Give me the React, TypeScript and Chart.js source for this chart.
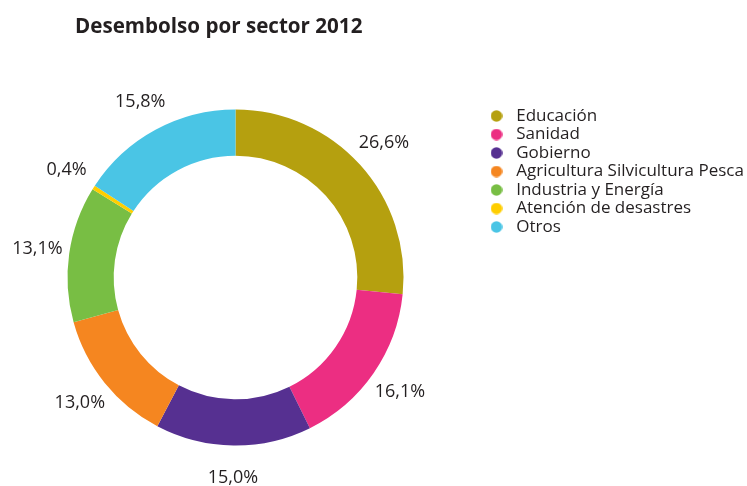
import React, { useEffect, useRef } from 'react';
import { Chart, registerables } from 'chart.js';

Chart.register(...registerables);

const TITLE = 'Desembolso por sector 2012';
const sectors = [
  'Educación',
  'Sanidad',
  'Gobierno',
  'Agricultura Silvicultura Pesca',
  'Industria y Energía',
  'Atención de desastres',
  'Otros',
];
const shares = [26.6, 16.1, 15.0, 13.0, 13.1, 0.4, 15.8];
const sectorColors = ['#B5A00F', '#EC2E82', '#563091', '#F58620', '#78BE44', '#FFCE00', '#4AC5E5'];

const W = 747;
const H = 486;
const OFF = 30; // canvas extends OFF px beyond the window on both sides
const FAMILY = '"Open Sans", "Noto Sans", sans-serif';
const TEXT = '#231F20';
const LEGEND_SIZE = 17;
const LABEL_SIZE = 18;
const TITLE_SIZE = 20.6;
const CENTER_X = 235.5;
const CENTER_Y = 277.5;
const OUTER_R = 168;
const LABEL_R = 200;
const LEG_PAD = 1.5;
const DOT_BOX = 22.4;
const LEG_LEFT = 483.8;
const LEG_TOP = 106;

function makeDot(color: string) {
  const c = document.createElement('canvas');
  c.width = 12;
  c.height = 12;
  const g = c.getContext('2d')!;
  g.fillStyle = color;
  g.beginPath();
  g.arc(6, 6, 5.8, 0, Math.PI * 2);
  g.fill();
  return c;
}

const titlePlugin = {
  id: 'fixedTitle',
  afterDraw(chart: any) {
    const ctx = chart.ctx;
    ctx.save();
    ctx.font = `bold ${TITLE_SIZE}px ${FAMILY}`;
    ctx.fillStyle = TEXT;
    ctx.textAlign = 'left';
    ctx.textBaseline = 'alphabetic';
    ctx.fillText(TITLE, 75 + OFF, 32.5);
    ctx.restore();
  },
};

const pctPlugin = {
  id: 'pctLabels',
  afterDatasetsDraw(chart: any) {
    const ctx = chart.ctx;
    const meta = chart.getDatasetMeta(0);
    ctx.save();
    ctx.font = `${LABEL_SIZE}px ${FAMILY}`;
    ctx.fillStyle = TEXT;
    ctx.textAlign = 'center';
    ctx.textBaseline = 'middle';
    meta.data.forEach((arc: any, i: number) => {
      const { x, y, startAngle, endAngle } = arc.getProps(['x', 'y', 'startAngle', 'endAngle'], true);
      const mid = (startAngle + endAngle) / 2;
      const px = x + Math.cos(mid) * LABEL_R;
      const py = y + Math.sin(mid) * LABEL_R;
      const v = chart.data.datasets[0].data[i] as number;
      ctx.fillText(v.toFixed(1).replace('.', ',') + '%', px, py);
    });
    ctx.restore();
  },
};

export default function App() {
  const ref = useRef<HTMLCanvasElement>(null);

  useEffect(() => {
    const canvas = ref.current!;
    const m = document.createElement('canvas').getContext('2d')!;
    m.font = `${LEGEND_SIZE}px ${FAMILY}`;
    const maxText = Math.max(...sectors.map((s) => m.measureText(s).width));
    const legendW = LEG_PAD + DOT_BOX + LEGEND_SIZE / 2 + maxText + 10;
    const cw = W + 2 * OFF;
    const legLeft = LEG_LEFT + OFF;
    const padRight = cw - legLeft - legendW;
    const padLeft = 2 * (CENTER_X + OFF) - legLeft;
    const padTop = LEG_TOP;
    const padBottom = H - (2 * CENTER_Y - LEG_TOP);

    const dots = sectorColors.map(makeDot);

    const chart = new Chart(canvas, {
      type: 'doughnut',
      data: {
        labels: sectors,
        datasets: [
          {
            data: shares,
            backgroundColor: sectorColors,
            borderWidth: 0,
          },
        ],
      },
      options: {
        responsive: false,
        animation: false,
        radius: OUTER_R,
        cutout: '72.5%',
        layout: {
          padding: { left: padLeft, right: padRight, top: padTop, bottom: padBottom },
        },
        plugins: {
          title: { display: false },
          tooltip: { enabled: false },
          legend: {
            display: true,
            position: 'right',
            align: 'start',
            labels: {
              usePointStyle: true,
              pointStyleWidth: DOT_BOX,
              boxHeight: LEGEND_SIZE,
              padding: LEG_PAD,
              color: TEXT,
              font: { family: FAMILY, size: LEGEND_SIZE },
              generateLabels: (c: any) => {
                const base = (Chart as any).overrides.doughnut.plugins.legend.labels.generateLabels(c);
                return base.map((it: any, i: number) => ({ ...it, pointStyle: dots[i] }));
              },
            },
          },
        },
      } as any,
      plugins: [pctPlugin, titlePlugin],
    });
    return () => chart.destroy();
  }, []);

  return (
    <div style={{ position: 'absolute', left: 0, top: 0, width: W, height: H, overflow: 'hidden', background: '#fff' }}>
      <canvas
        ref={ref}
        width={W + 2 * OFF}
        height={H}
        style={{ display: 'block', position: 'absolute', left: -OFF, top: 0 }}
      />
    </div>
  );
}
